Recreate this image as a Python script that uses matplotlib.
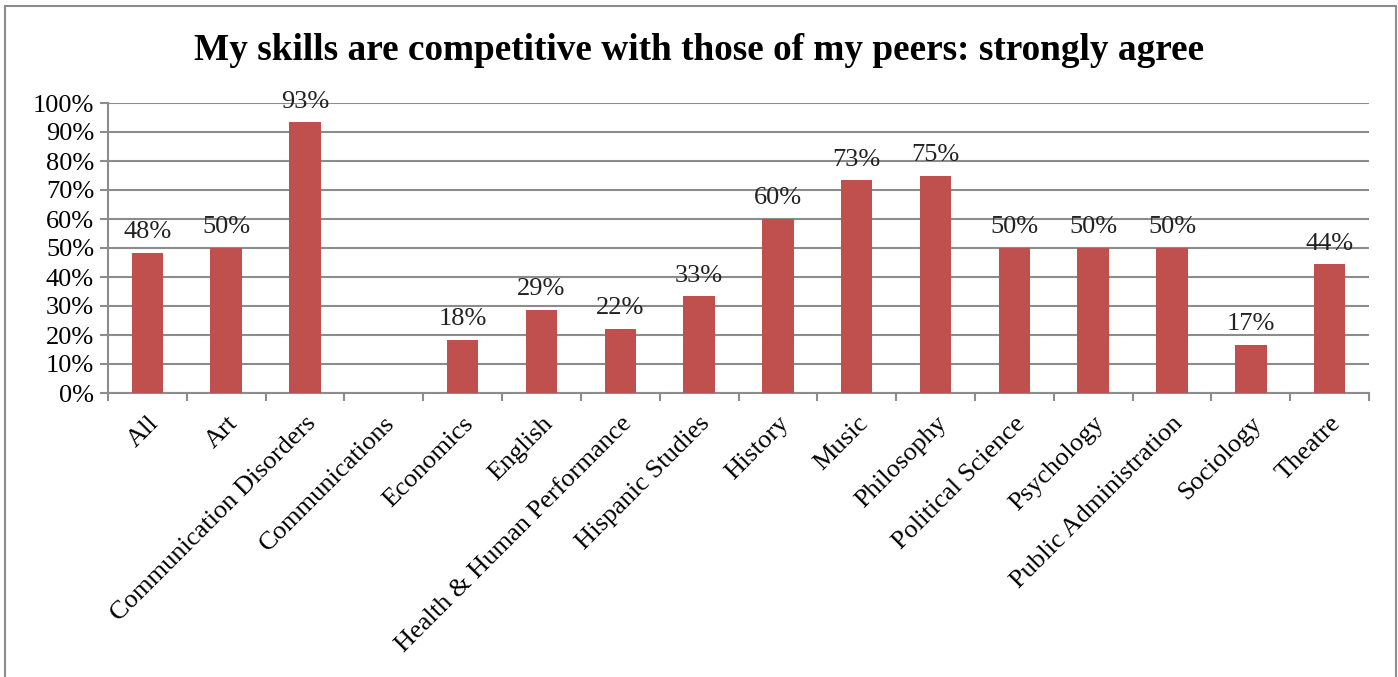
import matplotlib
matplotlib.use("Agg")
import matplotlib.pyplot as plt
from matplotlib.patches import Rectangle

categories = ["All", "Art", "Communication Disorders", "Communications", "Economics",
              "English", "Health & Human Performance", "Hispanic Studies", "History",
              "Music", "Philosophy", "Political Science", "Psychology",
              "Public Administration", "Sociology", "Theatre"]
values = [48.3, 50.0, 93.3, 0.0, 18.2, 28.6, 22.2, 33.3, 60.0, 73.3, 75.0,
          50.0, 50.0, 50.0, 16.7, 44.4]
labels = ["48%", "50%", "93%", "", "18%", "29%", "22%", "33%", "60%", "73%", "75%",
          "50%", "50%", "50%", "17%", "44%"]
yticks = list(range(0, 101, 10))
title = "My skills are competitive with those of my peers: strongly agree"

plt.rcParams['font.family'] = ['Liberation Serif', 'DejaVu Serif']

W, H = 1398, 677
fig = plt.figure(figsize=(W / 100, H / 100), dpi=100)
fig.patch.set_facecolor("white")
fig.patches.append(Rectangle((5 / W, -0.02), (1396 - 5) / W, 1.02 - 6 / H,
                             transform=fig.transFigure, fill=False,
                             edgecolor="#8c8c8c", linewidth=1.5))

ax = fig.add_axes([108 / W, 1 - 393 / H, (1369 - 108) / W, (393 - 103) / H])
x = list(range(len(categories)))
ax.bar(x, values, width=0.4, color="#C0504D", zorder=3)
for xi, v, lab in zip(x, values, labels):
    if lab:
        ax.annotate(lab, (xi, v), xytext=(0, 7), textcoords="offset points",
                    ha="center", va="bottom", fontsize=19, color="#222222")

ax.set_xlim(-0.5, len(categories) - 0.5)
ax.set_ylim(0, 100)
ax.set_yticks(yticks)
ax.set_yticklabels([f"{t}%" for t in yticks], fontsize=19)
ax.yaxis.grid(True, color="#8c8c8c", linewidth=1.5, zorder=0)
ax.set_axisbelow(True)
for s in ["top", "right"]:
    ax.spines[s].set_visible(False)
for s in ["left", "bottom"]:
    ax.spines[s].set_color("#8c8c8c")
    ax.spines[s].set_linewidth(1.5)
ax.tick_params(axis="y", length=6, width=1.5, color="#8c8c8c", pad=4)

# category boundary ticks
ax.set_xticks([i - 0.5 for i in range(len(categories) + 1)])
ax.set_xticklabels([])
ax.tick_params(axis="x", length=6, width=1.5, color="#8c8c8c")
ax.set_xticks(x, minor=True)
ax.set_xticklabels(categories, minor=True, rotation=45, ha="right",
                   rotation_mode="anchor", fontsize=19)
ax.tick_params(axis="x", which="minor", length=0, pad=14)

fig.text(0.5, 1 - 50 / H, title, ha="center", va="center", fontsize=26.8,
         fontweight="bold")

fig.savefig("out.png", dpi=100)
